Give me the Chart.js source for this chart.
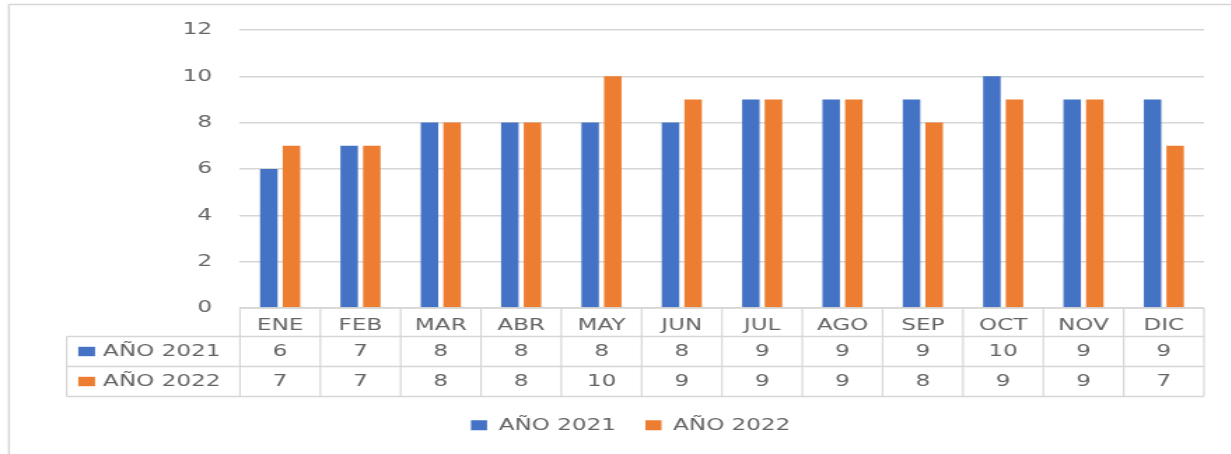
<!DOCTYPE html>
<html>
<head>
<meta charset="utf-8">
<script src="https://cdn.jsdelivr.net/npm/chart.js@4/dist/chart.umd.min.js"></script>
<style>
  html, body { margin: 0; padding: 0; background: #fff; overflow: hidden; width: 1231px; height: 454px; }
  #wrap { position: absolute; left: 0; top: 0; width: 880px; height: 454px; transform: scaleX(1.4); transform-origin: 0 0; }
  canvas { display: block; }
</style>
</head>
<body>
<div id="wrap"><canvas id="c" width="880" height="454"></canvas></div>
<script>
// Monthly counts, two years side by side
const months = ['ENE', 'FEB', 'MAR', 'ABR', 'MAY', 'JUN', 'JUL', 'AGO', 'SEP', 'OCT', 'NOV', 'DIC'];
const year2021 = [6, 7, 8, 8, 8, 8, 9, 9, 9, 10, 9, 9];
const year2022 = [7, 7, 8, 8, 10, 9, 9, 9, 8, 9, 9, 7];
const seriesNames = ['AÑO 2021', 'AÑO 2022'];
const seriesColors = ['#4472C4', '#ED7D31'];
const seriesValues = [year2021, year2022];

const FONT = '"DejaVu Sans", sans-serif';
const FONT_SIZE = 16.5;
const TEXT = '#646464';
const LINE = '#d6d6d6';

// Frame around the whole chart
const framePlugin = {
  id: 'frame',
  beforeDraw(chart) {
    const { ctx, width, height } = chart;
    ctx.save();
    ctx.strokeStyle = LINE;
    ctx.lineWidth = 1.5;
    ctx.beginPath();
    ctx.moveTo(6.4, height + 2);
    ctx.lineTo(6.4, 4.5);
    ctx.lineTo(width + 2, 4.5);
    ctx.stroke();
    ctx.restore();
  }
};

// Data table under the plot: header row holds the axis labels, one row per series
const tablePlugin = {
  id: 'dataTable',
  afterDraw(chart) {
    const { ctx, chartArea, scales: { x } } = chart;
    const top = chartArea.bottom;
    const rows = [top, top + 28.5, top + 58.5, top + 88.5];
    const tableLeft = 47.6;
    const colW = (x.right - x.left) / months.length;

    const seg = (x1, y1, x2, y2) => { ctx.beginPath(); ctx.moveTo(x1, y1); ctx.lineTo(x2, y2); ctx.stroke(); };

    ctx.save();
    ctx.strokeStyle = LINE;
    ctx.lineWidth = 1.6;
    seg(x.left, rows[0], x.right, rows[0]);
    for (let r = 1; r < rows.length; r++) seg(tableLeft, rows[r], x.right, rows[r]);
    ctx.lineWidth = 1.15;
    for (let i = 0; i <= months.length; i++) {
      const xv = x.left + i * colW;
      seg(xv, rows[0], xv, rows[3]);
    }
    seg(tableLeft, rows[1], tableLeft, rows[3]);

    ctx.font = FONT_SIZE + 'px ' + FONT;
    ctx.textBaseline = 'middle';
    for (let s = 0; s < seriesNames.length; s++) {
      const cy = (rows[s + 1] + rows[s + 2]) / 2;
      ctx.fillStyle = seriesColors[s];
      ctx.fillRect(55.9, cy - 4.7, 12, 9.4);
      ctx.fillStyle = TEXT;
      ctx.textAlign = 'left';
      ctx.fillText(seriesNames[s], 73.6, cy + 0.5);
      ctx.textAlign = 'center';
      seriesValues[s].forEach((v, i) => {
        ctx.fillText(String(v), x.getPixelForValue(i), cy + 0.5);
      });
    }
    ctx.restore();
  }
};

new Chart(document.getElementById('c'), {
  type: 'bar',
  data: {
    labels: months,
    datasets: seriesNames.map((name, s) => ({
      label: name,
      data: seriesValues[s],
      backgroundColor: seriesColors[s],
      borderWidth: 0,
      categoryPercentage: 0.563,
      barPercentage: 0.774
    }))
  },
  options: {
    responsive: false,
    animation: false,
    devicePixelRatio: 1,
    layout: { padding: { top: 27.5, left: 41, right: 20, bottom: 10.5 } },
    plugins: {
      tooltip: { enabled: false },
      legend: {
        position: 'bottom',
        labels: {
          boxWidth: 11.5,
          boxHeight: 10,
          padding: 21,
          color: TEXT,
          font: { family: FONT, size: FONT_SIZE }
        }
      }
    },
    scales: {
      x: {
        grid: { display: false },
        border: { display: false },
        ticks: { color: TEXT, font: { family: FONT, size: FONT_SIZE }, padding: 0, maxRotation: 0, autoSkip: false },
        afterFit(scale) { scale.height = 88; }
      },
      y: {
        min: 0,
        max: 12,
        grid: { color: LINE, lineWidth: 1.5, drawTicks: false },
        border: { display: false },
        ticks: { stepSize: 2, color: TEXT, font: { family: FONT, size: FONT_SIZE }, padding: 20 },
        afterFit(scale) { scale.width = 130.4; }
      }
    }
  },
  plugins: [framePlugin, tablePlugin]
});
</script>
</body>
</html>
